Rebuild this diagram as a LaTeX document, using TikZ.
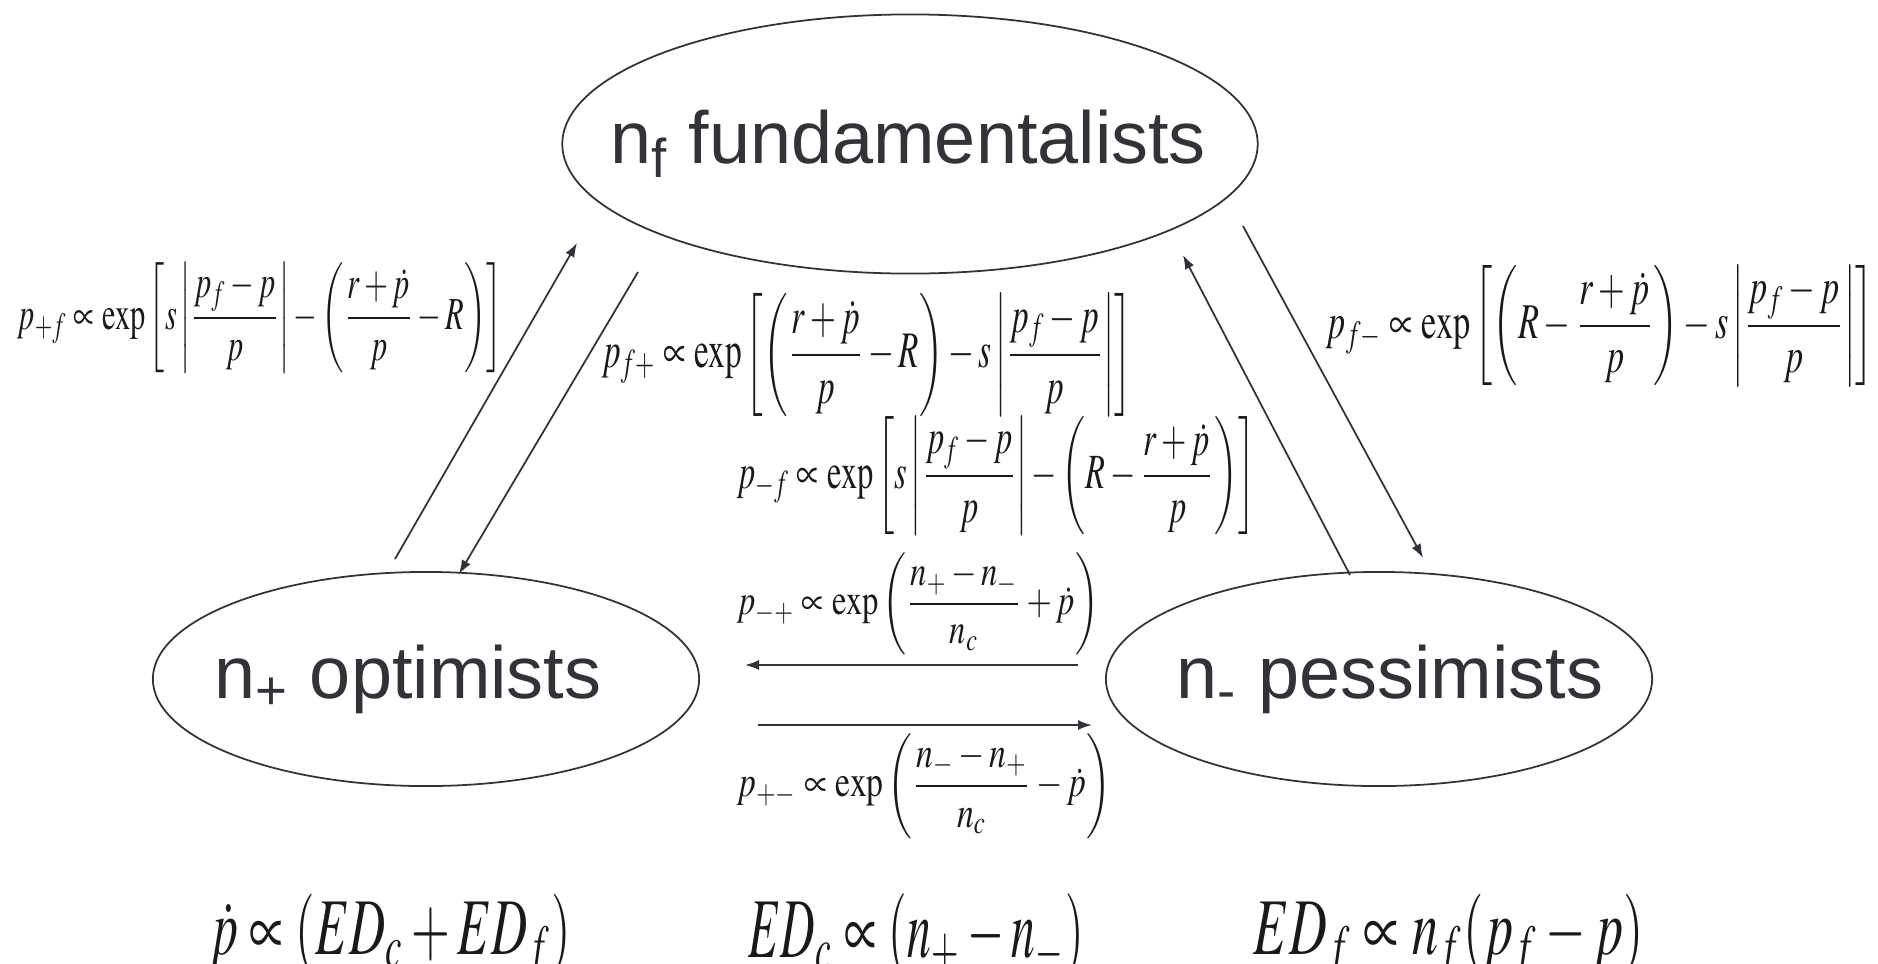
\documentclass[tikz,border=0pt]{standalone}
\usepackage{amsmath}
\usepackage{mathptmx}
\usepackage[no-math]{fontspec}
\usepackage{graphicx}
\usetikzlibrary{arrows.meta, shapes.geometric, positioning}
\newfontfamily\groupfont{Liberation Sans}
\definecolor{inkgray}{RGB}{50,50,55}

\begin{document}
\begin{tikzpicture}[x=0.01cm, y=-0.01cm,
    group/.style={ellipse, draw=inkgray, line width=0.5pt, inner sep=0pt},
    grouptext/.style={inner sep=0pt, text=inkgray, font=\groupfont\fontsize{21}{25}\selectfont},
    rate/.style={inner sep=0pt, text=black!90},
    flow/.style={-{Latex[length=1.4mm,width=1.0mm]}, draw=inkgray, line width=0.5pt}]
    \useasboundingbox (0,0) rectangle (1878,963);
    % the three groups of traders
    \node[group, minimum width=6.95cm, minimum height=2.59cm] (fund) at (910,144) {};
    \node[group, minimum width=5.46cm, minimum height=2.14cm] (opt) at (426,679) {};
    \node[group, minimum width=5.46cm, minimum height=2.14cm] (pess) at (1379,679) {};
    \node[grouptext] (fund-txt) at (908,144) {n\textsubscript{f} fundamentalists};
    \node[grouptext] (opt-txt) at (408,679) {n\textsubscript{+} optimists};
    \node[grouptext] (pess-txt) at (1390,679) {n\textsubscript{-} pessimists};
    % ends of the switching arrows
    \coordinate (o2f-a) at (395,559);  \coordinate (o2f-b) at (577,243);
    \coordinate (f2o-a) at (638,272);  \coordinate (f2o-b) at (459,574);
    \coordinate (m2f-a) at (1350,575); \coordinate (m2f-b) at (1183,255);
    \coordinate (f2m-a) at (1243,226); \coordinate (f2m-b) at (1423,558);
    \coordinate (m2o-a) at (1078,665); \coordinate (m2o-b) at (745,665);
    \coordinate (o2m-a) at (758,725);  \coordinate (o2m-b) at (1092,725);
    \draw[flow] (o2f-a) -- (o2f-b);
    \draw[flow] (f2o-a) -- (f2o-b);
    \draw[flow] (m2f-a) -- (m2f-b);
    \draw[flow] (f2m-a) -- (f2m-b);
    \draw[flow] (m2o-a) -- (m2o-b);
    \draw[flow] (o2m-a) -- (o2m-b);
    % transition rates
    \node[rate] (pof) at (260,318) {\resizebox*{4.85cm}{1.10cm}{$\displaystyle p_{+f}\propto\exp\left[s\left|\frac{p_f-p}{p}\right|-\left(\frac{r+\dot p}{p}-R\right)\right]$}};
    \node[rate] (pfo) at (867,355) {\resizebox*{5.30cm}{1.23cm}{$\displaystyle p_{f+}\propto\exp\left[\left(\frac{r+\dot p}{p}-R\right)-s\left|\frac{p_f-p}{p}\right|\right]$}};
    \node[rate] (pmf) at (996,476) {\resizebox*{5.18cm}{1.18cm}{$\displaystyle p_{-f}\propto\exp\left[s\left|\frac{p_f-p}{p}\right|-\left(R-\frac{r+\dot p}{p}\right)\right]$}};
    \node[rate] (pmo) at (918,604) {\resizebox*{3.62cm}{1.02cm}{$\displaystyle p_{-+}\propto\exp\left(\frac{n_+-n_-}{n_c}+\dot p\right)$}};
    \node[rate] (pom) at (924,786) {\resizebox*{3.74cm}{1.05cm}{$\displaystyle p_{+-}\propto\exp\left(\frac{n_--n_+}{n_c}-\dot p\right)$}};
    \node[rate] (pfm) at (1600,326) {\resizebox*{5.47cm}{1.20cm}{$\displaystyle p_{f-}\propto\exp\left[\left(R-\frac{r+\dot p}{p}\right)-s\left|\frac{p_f-p}{p}\right|\right]$}};
    % price and excess demands
    \node[rate, anchor=north] (price) at (390,893) {\resizebox*{3.61cm}{0.85cm}{$\dot p\propto(ED_c+ED_f)$}};
    \node[rate, anchor=north] (edc) at (916,893) {\resizebox*{3.35cm}{0.85cm}{$ED_c\propto(n_+-n_-)$}};
    \node[rate, anchor=north] (edf) at (1449,893) {\resizebox*{3.90cm}{0.85cm}{$ED_f\propto n_f(p_f-p)$}};
\end{tikzpicture}
\end{document}
